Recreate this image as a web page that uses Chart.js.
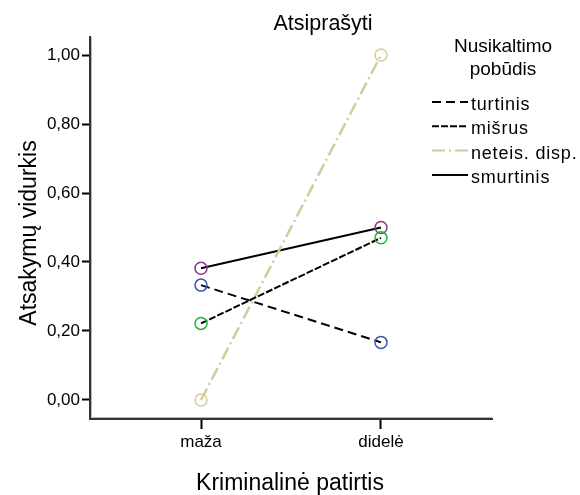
<!DOCTYPE html>
<html>
<head>
<meta charset="utf-8">
<script src="https://cdn.jsdelivr.net/npm/chart.js@4/dist/chart.umd.min.js"></script>
<style>
  html, body { margin: 0; padding: 0; background: #fff; }
  #wrap { width: 580px; height: 495px; }
</style>
</head>
<body>
<div id="wrap"><canvas id="chart"></canvas></div>
<script>
// categories on the x axis
var categories = ['maža', 'didelė'];
var seriesNames = ['turtinis', 'mišrus', 'neteis. disp.', 'smurtinis'];

// mean answers per category
var turtinis = [0.333, 0.167];
var misrus = [0.222, 0.47];
var neteis = [0.0, 1.0];
var smurtinis = [0.382, 0.5];

var yTicks = [0, 0.2, 0.4, 0.6, 0.8, 1.0];

var FONT = '"Liberation Sans", Arial, sans-serif';

function toPoints(values){
	return values.map(function(v, i){ return {x: i, y: v}; });
}

function makeSet(label, values, lineColor, pointColor, dash, width){
	return {
		label: label,
		data: toPoints(values),
		borderColor: lineColor,
		borderWidth: width,
		borderDash: dash,
		pointRadius: 6,
		pointHoverRadius: 6,
		pointBorderWidth: 1.5,
		pointBorderColor: pointColor,
		pointBackgroundColor: 'rgba(0,0,0,0)',
		fill: false,
		tension: 0
	};
}

var datasets = [
	makeSet(seriesNames[0], turtinis, '#000', '#3d56b0', [9, 5], 2),
	makeSet(seriesNames[1], misrus, '#000', '#22b23c', [7, 2], 2),
	makeSet(seriesNames[2], neteis, '#d3cb98', '#d3cb98', [13, 4, 2, 4], 2.5),
	makeSet(seriesNames[3], smurtinis, '#000', '#8a3688', [], 2)
];

// extra drawing: inner gray axis lines, title, axis titles, legend
var decorPlugin = {
	id: 'decor',
	afterDraw: function(chart){
		var ctx = chart.ctx;
		var area = chart.chartArea;
		ctx.save();

		// light inner line next to each axis
		ctx.strokeStyle = '#b8b8b8';
		ctx.lineWidth = 1;
		ctx.beginPath();
		ctx.moveTo(area.left + 1.5, area.top);
		ctx.lineTo(area.left + 1.5, area.bottom - 1.5);
		ctx.lineTo(area.right, area.bottom - 1.5);
		ctx.stroke();

		ctx.fillStyle = '#000';
		ctx.textAlign = 'center';
		ctx.textBaseline = 'alphabetic';

		ctx.font = '21.5px ' + FONT;
		ctx.fillText('Atsiprašyti', 323, 30);

		ctx.font = '23px ' + FONT;
		ctx.fillText('Kriminalinė patirtis', 290, 490);

		ctx.save();
		ctx.translate(30, 233);
		ctx.rotate(-Math.PI / 2);
		ctx.textBaseline = 'middle';
		ctx.fillText('Atsakymų vidurkis', 0, 0);
		ctx.restore();

		// legend
		ctx.font = '19px ' + FONT;
		ctx.fillText('Nusikaltimo', 503, 52);
		ctx.fillText('pobūdis', 503, 75);

		ctx.textAlign = 'left';
		ctx.font = '18px ' + FONT;
		if('letterSpacing' in ctx){ ctx.letterSpacing = '0.8px'; }
		chart.data.datasets.forEach(function(ds, i){
			var base = 110 + i * 24.3;
			ctx.save();
			ctx.strokeStyle = ds.borderColor;
			ctx.lineWidth = 2;
			ctx.setLineDash(ds.borderDash);
			ctx.beginPath();
			ctx.moveTo(432, base - 8);
			ctx.lineTo(468, base - 8);
			ctx.stroke();
			ctx.restore();
			ctx.fillText(ds.label, 471, base);
		});
		ctx.restore();
	}
};

new Chart(document.getElementById('chart'), {
	type: 'line',
	data: { datasets: datasets },
	plugins: [decorPlugin],
	options: {
		responsive: true,
		maintainAspectRatio: false,
		animation: false,
		layout: { padding: { left: 0, top: 37, right: 88, bottom: 0 } },
		plugins: {
			legend: { display: false },
			tooltip: { enabled: false },
			title: { display: false }
		},
		scales: {
			x: {
				type: 'linear',
				min: -0.6167,
				max: 1.6167,
				afterFit: function(scale){ scale.height = 76; },
				afterBuildTicks: function(scale){
					scale.ticks = categories.map(function(c, i){ return {value: i}; });
				},
				ticks: {
					color: '#000',
					font: { family: FONT, size: 17 },
					padding: 3,
					callback: function(v){ return categories[v]; }
				},
				grid: {
					drawOnChartArea: false,
					drawTicks: true,
					tickLength: 10,
					color: '#000',
					tickWidth: 2
				},
				border: { color: '#333', width: 2 }
			},
			y: {
				min: -0.0551,
				max: 1.0522,
				afterFit: function(scale){ scale.width = 90; },
				afterBuildTicks: function(scale){
					scale.ticks = yTicks.map(function(v){ return {value: v}; });
				},
				ticks: {
					color: '#000',
					font: { family: FONT, size: 17 },
					padding: 2,
					callback: function(v){ return v.toFixed(2).replace('.', ','); }
				},
				grid: {
					drawOnChartArea: false,
					drawTicks: true,
					tickLength: 8,
					color: '#000',
					tickWidth: 2
				},
				border: { color: '#333', width: 2 }
			}
		}
	}
});
</script>
</body>
</html>
